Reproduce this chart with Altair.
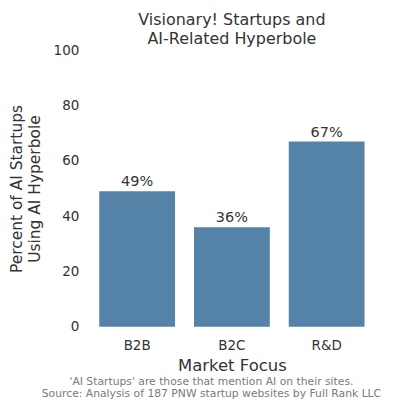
import altair as alt
import pandas as pd

categories = ["B2B", "B2C", "R&D"]
values = [49, 36, 67]
labels = ["49%", "36%", "67%"]
footer_lines = ["'AI Startups' are those that mention AI on their sites.",
                "Source: Analysis of 187 PNW startup websites by Full Rank LLC"]

df = pd.DataFrame({"focus": categories, "pct": values, "label": labels})

FONT = "DejaVu Sans"
TXT = "#333333"

base = alt.Chart(df).encode(
    x=alt.X("focus:N", title="Market Focus", sort=categories,
            scale=alt.Scale(paddingInner=0.2, paddingOuter=0.1),
            axis=alt.Axis(labelAngle=0, domain=False, ticks=False, labelPadding=12,
                          labelFontSize=13.5, titleFontSize=16.5, titlePadding=5,
                          labelColor=TXT, titleColor=TXT, labelFont=FONT, titleFont=FONT,
                          titleFontWeight="normal", grid=False)),
    y=alt.Y("pct:Q", title=["Percent of AI Startups", "Using AI Hyperbole"],
            scale=alt.Scale(domain=[0, 100]),
            axis=alt.Axis(values=[0, 20, 40, 60, 80, 100], grid=False, domain=False, ticks=False,
                          labelPadding=11, labelFontSize=13.5, titleFontSize=15.5, titlePadding=11,
                          labelColor=TXT, titleColor=TXT, labelFont=FONT, titleFont=FONT,
                          titleFontWeight="normal")),
)

bars = base.mark_bar(color="#5583a8")
text = base.mark_text(dy=-9, fontSize=14.5, font=FONT, color=TXT).encode(text="label:N")

f1 = alt.Chart(pd.DataFrame({"t": [footer_lines[0]]})).mark_text(
    fontSize=10.8, font=FONT, color="#7a7a7a").encode(text="t:N", x=alt.value(122), y=alt.value(332))
f2 = alt.Chart(pd.DataFrame({"t": [footer_lines[1]]})).mark_text(
    fontSize=10.8, font=FONT, color="#7a7a7a").encode(text="t:N", x=alt.value(122), y=alt.value(345))

chart = alt.layer(bars, text, f1, f2).properties(
    width=285, height=277,
    view=alt.ViewBackground(stroke=None, strokeWidth=0),
    title=alt.TitleParams(["Visionary! Startups and", "AI-Related Hyperbole"],
                          fontSize=16, font=FONT, fontWeight="normal", color=TXT,
                          anchor="middle", lineHeight=19, offset=-4),
).configure_view(stroke=None, strokeWidth=0).configure_axis(grid=False).configure(
    padding={"left": 1, "top": 4, "right": 5, "bottom": 0})

chart.save("out.html", embed_options={"renderer": "svg", "actions": False})
